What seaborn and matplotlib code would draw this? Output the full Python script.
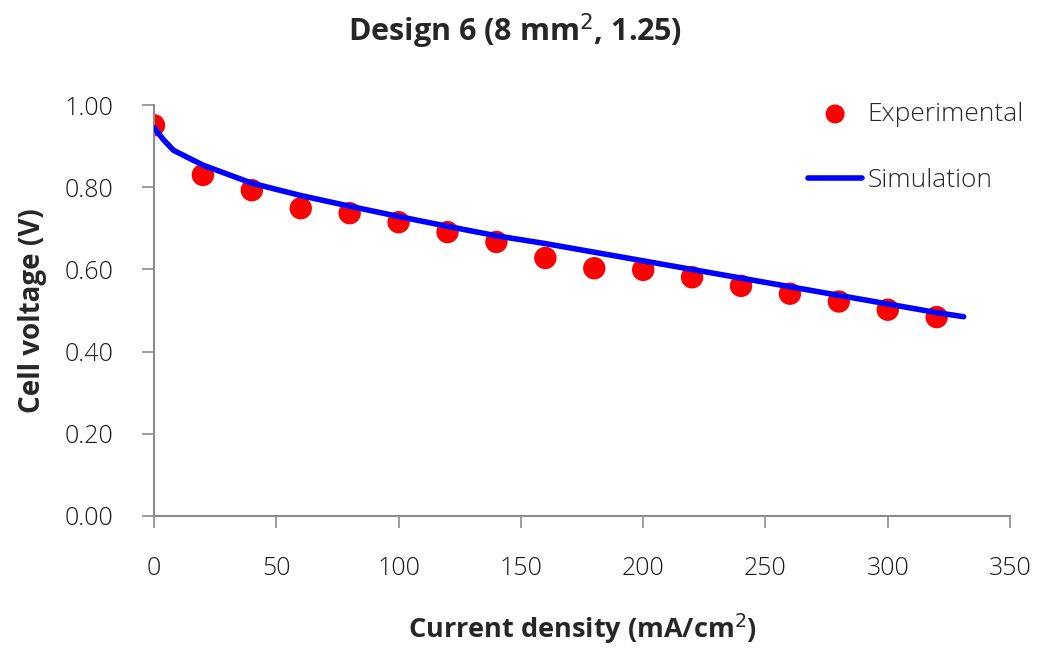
import matplotlib
matplotlib.use("Agg")
import matplotlib.pyplot as plt
import pandas as pd
import seaborn as sns

# experimental points
exp_current = [0, 20, 40, 60, 80, 100, 120, 140, 160, 180, 200, 220, 240, 260, 280, 300, 320]
exp_voltage = [0.951, 0.830, 0.793, 0.749, 0.737, 0.715, 0.691, 0.667, 0.628, 0.603, 0.599,
               0.581, 0.560, 0.541, 0.522, 0.502, 0.484]

# simulation curve
sim_current = [0, 4, 8, 20, 40, 60, 80, 100, 120, 140, 160, 180, 200, 220, 240, 260, 280, 300, 320, 331]
sim_voltage = [0.945, 0.915, 0.890, 0.854, 0.810, 0.780, 0.754, 0.729, 0.705, 0.682, 0.663,
               0.642, 0.621, 0.600, 0.579, 0.558, 0.537, 0.516, 0.495, 0.485]

x_ticks = [0, 50, 100, 150, 200, 250, 300, 350]
y_ticks = [0.0, 0.2, 0.4, 0.6, 0.8, 1.0]

exp_df = pd.DataFrame({"current": exp_current, "voltage": exp_voltage})
sim_df = pd.DataFrame({"current": sim_current, "voltage": sim_voltage})

sns.set_style("ticks")
plt.rcParams["font.family"] = ["Open Sans", "DejaVu Sans"]
bold_font = ["Open Sans", "DejaVu Sans"]

fig = plt.figure(figsize=(10.44, 6.49), dpi=100)
ax = fig.add_axes([0.1475, 0.205, 0.82, 0.633])

sns.scatterplot(data=exp_df, x="current", y="voltage", ax=ax, color="#ff0000",
                s=260, edgecolor="none", label="Experimental", zorder=2)
sns.lineplot(data=sim_df, x="current", y="voltage", ax=ax, color="#0000ff",
             linewidth=4, label="Simulation", zorder=3)

ax.set_xlim(0, 350)
ax.set_ylim(0, 1.0)
ax.set_xticks(x_ticks)
ax.set_yticks(y_ticks)
ax.set_yticklabels([f"{v:.2f}" for v in y_ticks])
ax.tick_params(axis="both", labelsize=18, color="#8c8c8c", length=8.5, width=1.2,
               labelcolor="#1a1a1a")
ax.tick_params(axis="x", pad=20)
ax.tick_params(axis="y", pad=21)
for lbl in ax.get_xticklabels() + ax.get_yticklabels():
    lbl.set_fontweight(300)

sns.despine(ax=ax)
for side in ["left", "bottom"]:
    ax.spines[side].set_color("#8c8c8c")
    ax.spines[side].set_linewidth(1.5)

ax.set_xlabel("Current density (mA/cm$^2$)", fontsize=19.5, fontweight="bold",
              family=bold_font, labelpad=22)
ax.set_ylabel("Cell voltage (V)", fontsize=20, fontweight="bold",
              family=bold_font, labelpad=12)
fig.suptitle("Design 6 (8 mm$^2$, 1.25)", fontsize=22, fontweight="bold",
             family=bold_font, x=0.493, y=0.982)

leg = ax.legend(loc="upper left", bbox_to_anchor=(0.774, 0.843),
                bbox_transform=fig.transFigure, frameon=False, borderpad=0,
                borderaxespad=0, fontsize=19, labelspacing=1.55, handlelength=2.05,
                handletextpad=0.2, markerscale=0.85)
for t in leg.get_texts():
    t.set_fontweight(300)

fig.savefig("out.png", dpi=100)
